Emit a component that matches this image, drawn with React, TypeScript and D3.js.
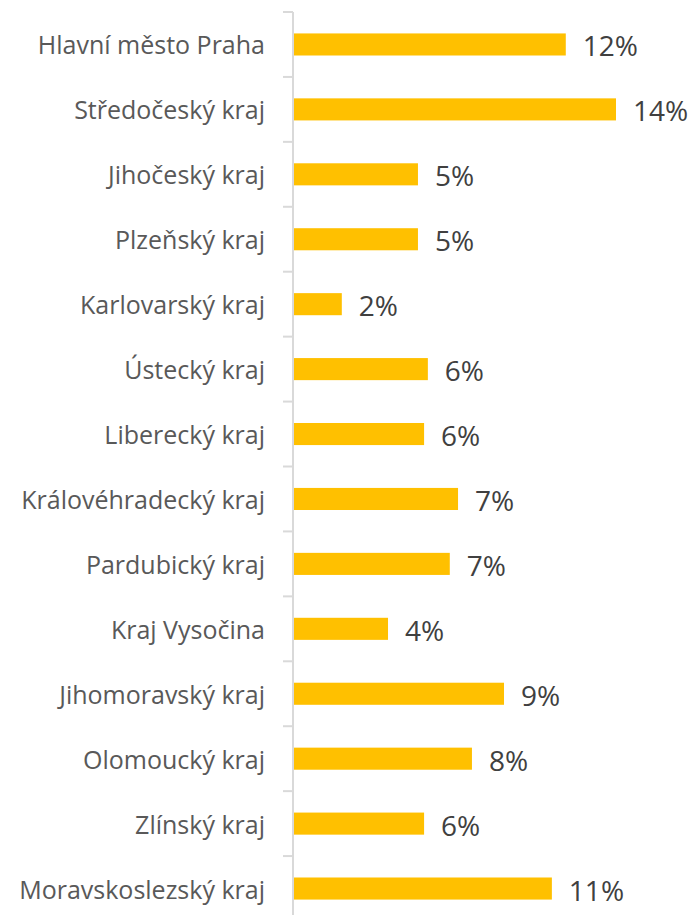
import React from "react";
import * as d3 from "d3";

const categories = [
  "Hlavní město Praha",
  "Středočeský kraj",
  "Jihočeský kraj",
  "Plzeňský kraj",
  "Karlovarský kraj",
  "Ústecký kraj",
  "Liberecký kraj",
  "Královéhradecký kraj",
  "Pardubický kraj",
  "Kraj Vysočina",
  "Jihomoravský kraj",
  "Olomoucký kraj",
  "Zlínský kraj",
  "Moravskoslezský kraj",
];

const values = [
  0.1157, 0.137, 0.053, 0.053, 0.0207, 0.0572, 0.0556, 0.07, 0.0665, 0.0403,
  0.0895, 0.0759, 0.0556, 0.1098,
];

const W = 692;
const H = 915;

export default function App() {
  const x0 = 293;
  const x = d3.scaleLinear().domain([0, 0.137]).range([x0, 616]);
  const y = d3.scaleBand<string>().domain(categories).range([12, 921]).padding(0);
  const barH = y.bandwidth() * 0.34;
  const fmt = d3.format(".0%");
  const font = "'Open Sans', sans-serif";

  return (
    <svg
      width={W}
      height={H}
      style={{ position: "absolute", left: 0, top: 0, background: "#fff" }}
    >
      <line x1={x0} x2={x0} y1={12} y2={921} stroke="#d9d9d9" strokeWidth={2} />
      {[...categories.map((c) => y(c) as number), 921].map((t, i) => (
        <line key={"t" + i} x1={283} x2={x0} y1={t} y2={t} stroke="#d9d9d9" strokeWidth={2} />
      ))}
      {categories.map((c, i) => {
        const cy = (y(c) as number) + y.bandwidth() / 2;
        return (
          <g key={c}>
            <rect
              x={x(0) + 1}
              y={cy - barH / 2}
              width={x(values[i]) - x(0) - 1}
              height={barH}
              fill="#FFC000"
            />
            <text
              x={265}
              y={cy}
              textAnchor="end"
              dominantBaseline="central"
              fontFamily={font}
              fontSize={25}
              fill="#595959"
            >
              {c}
            </text>
            <text
              x={x(values[i]) + 17}
              y={cy + 1}
              dominantBaseline="central"
              fontFamily={font}
              fontSize={28}
              fill="#404040"
            >
              {fmt(values[i])}
            </text>
          </g>
        );
      })}
    </svg>
  );
}
